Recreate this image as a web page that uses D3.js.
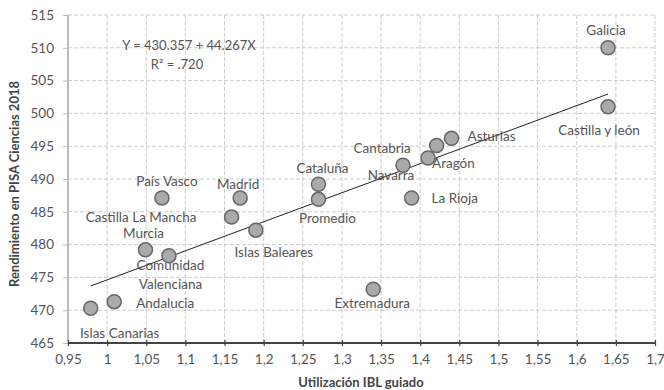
<!DOCTYPE html>
<html lang="es">
  <head>
    <meta charset="UTF-8" />
    <title>PISA Ciencias vs IBL</title>
    <style>
      body { margin: 0; background: #fff; }
      text { font-family: Lato, "Open Sans", sans-serif; }
    </style>
  </head>
  <body>
    <svg id="svg" width="664" height="390"></svg>

    <script src="https://cdn.jsdelivr.net/npm/d3@7"></script>
    <script>
      const WIDTH = 664;
      const HEIGHT = 390;

      // data
      const REGIONS = [
        "Islas Canarias", "Andalucia", "Murcia", "Comunidad Valenciana",
        "País Vasco", "Castilla La Mancha", "Madrid", "Islas Baleares",
        "Cataluña", "Promedio", "Extremadura", "Navarra", "La Rioja",
        "Aragón", "Cantabria", "Asturias", "Galicia", "Castilla y león",
      ];
      const IBL = [
        0.979, 1.009, 1.049, 1.079, 1.07, 1.159, 1.17, 1.19, 1.27, 1.27,
        1.34, 1.378, 1.389, 1.41, 1.421, 1.44, 1.64, 1.64,
      ];
      const SCIENCE = [
        470.3, 471.3, 479.2, 478.3, 487.1, 484.2, 487.1, 482.2, 489.2, 486.9,
        473.2, 492.1, 487.1, 493.2, 495.1, 496.2, 510, 501,
      ];
      const X_TICKS = [0.95, 1, 1.05, 1.1, 1.15, 1.2, 1.25, 1.3, 1.35, 1.4, 1.45, 1.5, 1.55, 1.6, 1.65, 1.7];
      const Y_TICKS = [465, 470, 475, 480, 485, 490, 495, 500, 505, 510, 515];
      const INTERCEPT = 430.357;
      const SLOPE = 44.267;
      const R2 = ".720";

      // label placement: [dx, dy, anchor], lines split by "|"
      const LABELS = {
        "Islas Canarias": ["Islas Canarias", 29, 25, "middle"],
        "Andalucia": ["Andalucia", 22, 1, "start"],
        "Murcia": ["Murcia", -2, -17, "middle"],
        "Comunidad Valenciana": ["Comunidad|Valenciana", 1.5, 9, "middle"],
        "País Vasco": ["País Vasco", 5, -17, "middle"],
        "Castilla La Mancha": ["Castilla La Mancha", -35, 0, "end"],
        "Madrid": ["Madrid", -2, -14, "middle"],
        "Islas Baleares": ["Islas Baleares", 18, 22, "middle"],
        "Cataluña": ["Cataluña", 4, -16, "middle"],
        "Promedio": ["Promedio", 9, 19, "middle"],
        "Extremadura": ["Extremadura", -1, 14, "middle"],
        "Navarra": ["Navarra", -12, 10, "middle"],
        "La Rioja": ["La Rioja", 20, 0, "start"],
        "Aragón": ["Aragón", 4, 5, "start"],
        "Cantabria": ["Cantabria", -26, 2, "end"],
        "Asturias": ["Asturias", 16, -2, "start"],
        "Galicia": ["Galicia", -2, -18, "middle"],
        "Castilla y león": ["Castilla y león", -9, 23, "middle"],
      };

      const x = d3.scaleLinear().domain([0.95, 1.7]).range([68, 655]);
      const y = d3.scaleLinear().domain([465, 515]).range([343, 15]);

      const svg = d3.select("#svg");
      const textColor = "#555";

      // grid
      svg.append("g")
        .selectAll("line")
        .data(X_TICKS.slice(1))
        .join("line")
        .attr("x1", (d) => x(d)).attr("x2", (d) => x(d))
        .attr("y1", y(515)).attr("y2", y(465))
        .attr("stroke", "#ccc").attr("stroke-dasharray", "4,2");
      svg.append("g")
        .selectAll("line")
        .data(Y_TICKS.slice(1))
        .join("line")
        .attr("x1", x(0.95)).attr("x2", x(1.7))
        .attr("y1", (d) => y(d)).attr("y2", (d) => y(d))
        .attr("stroke", "#ccc").attr("stroke-dasharray", "4,2");

      // left axis
      const leftAxis = d3.axisLeft(y).tickValues(Y_TICKS).tickSize(5).tickPadding(4);
      const gl = svg.append("g").attr("transform", `translate(${x(0.95)},0)`).call(leftAxis);
      gl.select(".domain").attr("stroke", "#bbb").attr("stroke-width", 2).attr("d", `M0,${y(515)}V${y(465)}`);
      gl.selectAll(".tick line").attr("stroke", "#bbb").attr("x1", 0).attr("x2", -5);
      gl.selectAll(".tick text").attr("fill", textColor).style("font-size", "13.5px").attr("x", -14);

      // bottom axis
      const bottomAxis = d3.axisBottom(x).tickValues(X_TICKS)
        .tickFormat((d) => String(d).replace(".", ","))
        .tickSize(3).tickPadding(8);
      const gb = svg.append("g").attr("transform", `translate(0,${y(465)})`).call(bottomAxis);
      gb.select(".domain").attr("stroke", "#444").attr("stroke-width", 2).attr("d", `M${x(0.95)},0H${x(1.7)}`);
      gb.selectAll(".tick line").attr("stroke", "#444").attr("y1", -3).attr("y2", 3).attr("stroke-width", 1.2);
      gb.selectAll(".tick text").attr("fill", textColor).style("font-size", "13.5px");

      // regression line
      const xMin = d3.min(IBL);
      const xMax = d3.max(IBL);
      svg.append("line")
        .attr("x1", x(xMin)).attr("y1", y(INTERCEPT + SLOPE * xMin))
        .attr("x2", x(xMax)).attr("y2", y(INTERCEPT + SLOPE * xMax))
        .attr("stroke", "#222").attr("stroke-width", 1);

      // points
      const points = REGIONS.map((name, i) => ({ name, ibl: IBL[i], sci: SCIENCE[i] }));
      svg.append("g")
        .selectAll("circle")
        .data(points)
        .join("circle")
        .attr("cx", (d) => x(d.ibl))
        .attr("cy", (d) => y(d.sci))
        .attr("r", 7)
        .attr("fill", "#aaa")
        .attr("stroke", "#666")
        .attr("stroke-width", 1.5);

      // point labels
      const lbl = svg.append("g");
      points.forEach((d) => {
        const [txt, dx, dy, anchor] = LABELS[d.name];
        const lines = txt.split("|");
        const t = lbl.append("text")
          .attr("x", x(d.ibl) + dx)
          .attr("y", y(d.sci) + dy)
          .attr("text-anchor", anchor)
          .attr("dominant-baseline", "central")
          .attr("fill", textColor)
          .style("font-size", "13.5px");
        lines.forEach((ln, j) => {
          t.append("tspan").attr("x", x(d.ibl) + dx).attr("dy", j === 0 ? 0 : 19.5).text(ln);
        });
      });

      // equation
      svg.append("text")
        .attr("x", 189).attr("y", 45)
        .attr("text-anchor", "middle").attr("dominant-baseline", "central")
        .attr("fill", textColor).style("font-size", "13px")
        .text(`Y = ${INTERCEPT} + ${SLOPE}X`);
      svg.append("text")
        .attr("x", 177).attr("y", 63.5)
        .attr("text-anchor", "middle").attr("dominant-baseline", "central")
        .attr("fill", textColor).style("font-size", "13px")
        .text(`R² = ${R2}`);

      // axis titles
      svg.append("text")
        .attr("x", 361).attr("y", 382)
        .attr("text-anchor", "middle").attr("dominant-baseline", "central")
        .attr("fill", "#444").style("font-size", "13px").style("font-weight", "bold")
        .text("Utilización IBL guiado");
      svg.append("text")
        .attr("transform", "translate(14,184) rotate(-90)")
        .attr("text-anchor", "middle").attr("dominant-baseline", "central")
        .attr("fill", "#444").style("font-size", "13px").style("font-weight", "bold")
        .text("Rendimiento en PISA Ciencias 2018");
    </script>
  </body>
</html>
